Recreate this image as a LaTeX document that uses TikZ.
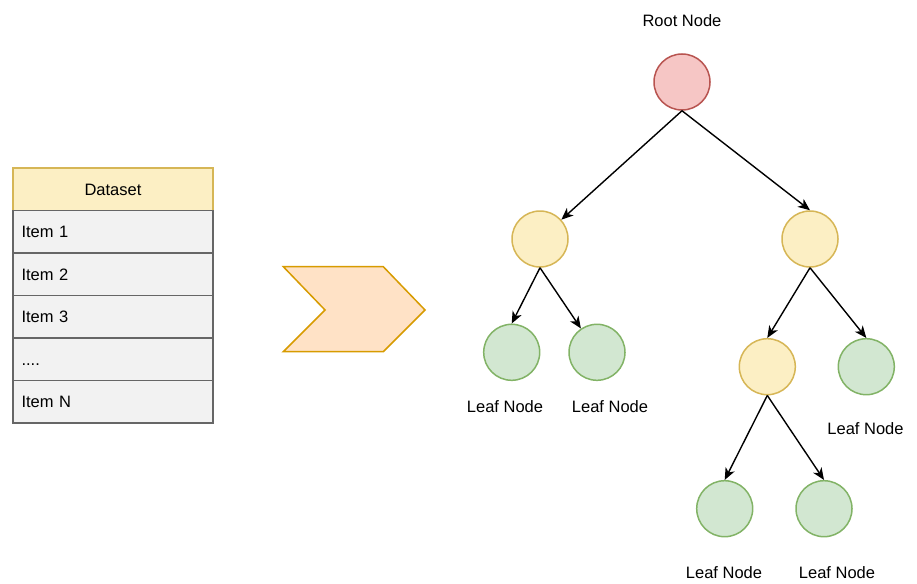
\documentclass[tikz,border=0pt]{standalone}
\usepackage{fontspec}
\setmainfont{Liberation Sans}
\usetikzlibrary{arrows.meta}

\definecolor{rootfill}{HTML}{F6C6C5}
\definecolor{rootline}{HTML}{B85450}
\definecolor{splitfill}{HTML}{FCEFC4}
\definecolor{splitline}{HTML}{D6B656}
\definecolor{leaffill}{HTML}{D2E7D1}
\definecolor{leafline}{HTML}{82B366}
\definecolor{rowfill}{HTML}{F2F2F2}
\definecolor{rowline}{HTML}{666666}
\definecolor{chevfill}{HTML}{FFE2C6}
\definecolor{chevline}{HTML}{D79B00}

\begin{document}
\begin{tikzpicture}[x=1pt,y=-1pt,
  every node/.style={font=\fontsize{16.5}{20}\selectfont},
  tnode/.style={circle,draw,line width=1.5pt,minimum size=56pt,inner sep=0pt},
  rootnode/.style={tnode,fill=rootfill,draw=rootline},
  splitnode/.style={tnode,fill=splitfill,draw=splitline},
  leafnode/.style={tnode,fill=leaffill,draw=leafline},
  rowbox/.style={draw=rowline,fill=rowfill,line width=1.3pt,minimum height=42.5pt,
    text width=183pt,inner xsep=8.5pt,inner ysep=0pt,text height=11.8pt,text depth=0pt,align=left},
  headbox/.style={rowbox,draw=splitline,fill=splitfill,align=center},
  branch/.style={-{Stealth[length=12pt,width=10pt,inset=3.5pt]},line width=1.4pt}]
\useasboundingbox (0,0) rectangle (917,583);

% dataset table
\node[headbox] (head) at (113,189.25) {Dataset};
\foreach \i/\txt in {1/Item 1,2/Item 2,3/Item 3,4/{....},5/Item N}
   \node[rowbox] (row\i) at (113,189.25+42.5*\i) {\txt};

% chevron
\draw[fill=chevfill,draw=chevline,line width=1.5pt] (283.3,266.7) -- (383.3,266.7) -- (425,310)
   -- (383.3,351.7) -- (283.3,351.7) -- (325,310) -- cycle;

% tree
\node[rootnode] (root) at (682,82) {};
\node[splitnode] (left) at (540,239) {};
\node[splitnode] (right) at (810,239) {};
\node[leafnode] (leafa) at (511.7,352.3) {};
\node[leafnode] (leafb) at (597,352.3) {};
\node[splitnode] (mid) at (767.3,366.7) {};
\node[leafnode] (leafc) at (866.3,366.7) {};
\node[leafnode] (leafd) at (724.7,508.7) {};
\node[leafnode] (leafe) at (824,508.7) {};

\node (rootlabel) at (682,21) {Root Node};
\node (labela) at (505,407) {Leaf Node};
\node (labelb) at (610,407) {Leaf Node};
\node (labelc) at (865.5,429) {Leaf Node};
\node (labeld) at (724,573) {Leaf Node};
\node (labele) at (837,573) {Leaf Node};

\draw[branch] (root.south) -- (left);
\draw[branch] (root.south) -- (right.north);
\draw[branch] (left.south) -- (leafa.north);
\draw[branch] (left.south) -- (leafb);
\draw[branch] (right.south) -- (mid.north);
\draw[branch] (right.south) -- (leafc.north);
\draw[branch] (mid.south) -- (leafd.north);
\draw[branch] (mid.south) -- (leafe.north);
\end{tikzpicture}
\end{document}
